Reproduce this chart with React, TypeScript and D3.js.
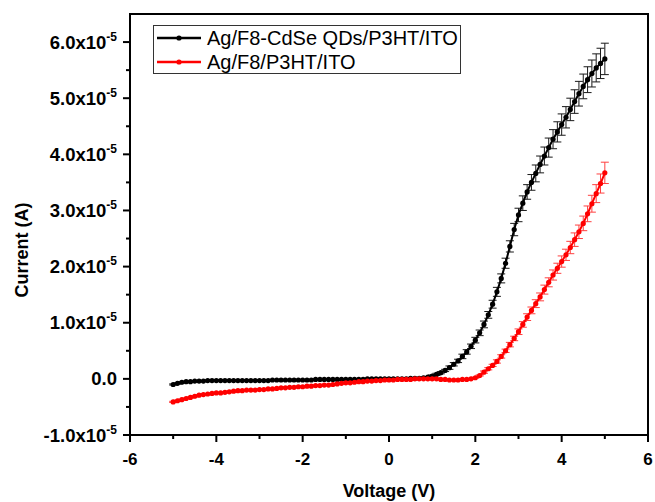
import React from "react";
import * as d3 from "d3";

// voltage grid, -5 V to 5 V in 0.1 V steps
const voltages = d3.range(101).map((i) => Math.round((-5 + i * 0.1) * 10) / 10);

// currents in units of 1e-5 A
const qdCurrent = [
  -0.10, -0.08, -0.06, -0.05, -0.05, -0.04, -0.04, -0.04, -0.03, -0.03,
  -0.03, -0.03, -0.03, -0.03, -0.03, -0.03, -0.03, -0.03, -0.03, -0.03,
  -0.03, -0.03, -0.03, -0.02, -0.02, -0.02, -0.02, -0.02, -0.02, -0.02,
  -0.02, -0.02, -0.02, -0.01, -0.01, -0.01, -0.01, -0.01, -0.01, -0.01,
  -0.01, -0.01, -0.01, -0.01, -0.01, 0, 0, 0, 0, 0,
  0, 0, 0, 0, 0, 0.01, 0.01, 0.01, 0.02, 0.03,
  0.05, 0.08, 0.11, 0.15, 0.20, 0.26, 0.32, 0.40, 0.48, 0.58,
  0.69, 0.82, 0.97, 1.14, 1.33, 1.55, 1.79, 2.06, 2.36, 2.66,
  2.92, 3.13, 3.33, 3.50, 3.66, 3.82, 3.97, 4.12, 4.27, 4.40,
  4.53, 4.66, 4.80, 4.94, 5.08, 5.21, 5.33, 5.44, 5.54, 5.62,
  5.70,
];
const qdError = [
  0.01, 0.01, 0.01, 0.01, 0.01, 0.01, 0.01, 0.01, 0.01, 0.01,
  0.01, 0.01, 0.01, 0.01, 0.01, 0.01, 0.01, 0.01, 0.01, 0.01,
  0.01, 0.01, 0.01, 0.01, 0.01, 0.01, 0.01, 0.01, 0.01, 0.01,
  0.01, 0.01, 0.01, 0.01, 0.01, 0.01, 0.01, 0.01, 0.01, 0.01,
  0.01, 0.01, 0.01, 0.01, 0.01, 0.01, 0.01, 0.01, 0.01, 0.01,
  0.01, 0.01, 0.01, 0.01, 0.01, 0.01, 0.01, 0.01, 0.01, 0.01,
  0.02, 0.02, 0.02, 0.02, 0.03, 0.03, 0.03, 0.04, 0.04, 0.04,
  0.05, 0.05, 0.06, 0.06, 0.07, 0.08, 0.08, 0.09, 0.10, 0.11,
  0.12, 0.13, 0.13, 0.14, 0.15, 0.15, 0.16, 0.17, 0.17, 0.18,
  0.19, 0.19, 0.20, 0.21, 0.22, 0.22, 0.23, 0.24, 0.25, 0.27,
  0.28,
];
const refCurrent = [
  -0.41, -0.39, -0.37, -0.35, -0.33, -0.31, -0.29, -0.28, -0.27, -0.26,
  -0.25, -0.25, -0.24, -0.23, -0.22, -0.21, -0.21, -0.20, -0.20, -0.20,
  -0.19, -0.19, -0.18, -0.18, -0.17, -0.16, -0.16, -0.15, -0.15, -0.14,
  -0.14, -0.13, -0.13, -0.12, -0.12, -0.11, -0.11, -0.10, -0.09, -0.08,
  -0.07, -0.07, -0.06, -0.05, -0.05, -0.04, -0.04, -0.03, -0.03, -0.02,
  -0.02, -0.02, -0.01, -0.01, -0.01, -0.01, 0, 0, 0, 0,
  0, 0, -0.01, -0.01, -0.02, -0.02, -0.02, -0.01, -0.01, 0,
  0.02, 0.06, 0.12, 0.18, 0.24, 0.31, 0.40, 0.50, 0.61, 0.72,
  0.84, 0.97, 1.10, 1.22, 1.34, 1.46, 1.59, 1.72, 1.85, 1.97,
  2.09, 2.21, 2.34, 2.48, 2.62, 2.77, 2.94, 3.12, 3.30, 3.48,
  3.67,
];
const refError = [
  0.01, 0.01, 0.01, 0.01, 0.01, 0.01, 0.01, 0.01, 0.01, 0.01,
  0.01, 0.01, 0.01, 0.01, 0.01, 0.01, 0.01, 0.01, 0.01, 0.01,
  0.01, 0.01, 0.01, 0.01, 0.01, 0.01, 0.01, 0.01, 0.01, 0.01,
  0.01, 0.01, 0.01, 0.01, 0.01, 0.01, 0.01, 0.01, 0.01, 0.01,
  0.01, 0.01, 0.01, 0.01, 0.01, 0.01, 0.01, 0.01, 0.01, 0.01,
  0.01, 0.01, 0.01, 0.01, 0.01, 0.01, 0.01, 0.01, 0.01, 0.01,
  0.01, 0.01, 0.01, 0.01, 0.01, 0.01, 0.01, 0.01, 0.01, 0.01,
  0.01, 0.01, 0.02, 0.02, 0.02, 0.03, 0.03, 0.03, 0.04, 0.04,
  0.05, 0.05, 0.06, 0.06, 0.07, 0.07, 0.08, 0.08, 0.09, 0.09,
  0.10, 0.10, 0.11, 0.12, 0.12, 0.13, 0.14, 0.15, 0.16, 0.17,
  0.19,
];

const xTicks = [-6, -4, -2, 0, 2, 4, 6];
const xMinor = [-5, -3, -1, 1, 3, 5];
const yTicks = [-1, 0, 1, 2, 3, 4, 5, 6];
const yMinor = [-0.5, 0.5, 1.5, 2.5, 3.5, 4.5, 5.5];

const series = [
  { name: "Ag/F8-CdSe QDs/P3HT/ITO", color: "#000000", current: qdCurrent, error: qdError },
  { name: "Ag/F8/P3HT/ITO", color: "#ff0000", current: refCurrent, error: refError },
];

const W = 655;
const H = 502;
const left = 130;
const right = 648;
const top = 14;
const bottom = 435;
const font = "'Liberation Sans', Arial, sans-serif";

export default function App() {
  const x = d3.scaleLinear().domain([-6, 6]).range([left, right]);
  const y = d3.scaleLinear().domain([-1, 6.5]).range([bottom, top]);
  const line = d3
    .line<number>()
    .x((_, i) => x(voltages[i]))
    .y((d) => y(d));

  return (
    <svg width={W} height={H} style={{ position: "absolute", left: 0, top: 0, background: "#fff" }} fontFamily={font}>
      {series.map((s) => (
        <g key={s.name}>
          <g stroke={s.color} strokeWidth={1} opacity={s.color === "#ff0000" ? 0.75 : 0.9}>
            {s.current.map((c, i) => {
              const cx = x(voltages[i]);
              const y0 = y(c + s.error[i]);
              const y1 = y(c - s.error[i]);
              return (
                <g key={i}>
                  <line x1={cx} x2={cx} y1={y0} y2={y1} />
                  <line x1={cx - 4} x2={cx + 4} y1={y0} y2={y0} />
                  <line x1={cx - 4} x2={cx + 4} y1={y1} y2={y1} />
                </g>
              );
            })}
          </g>
          <path d={line(s.current) ?? ""} fill="none" stroke={s.color} strokeWidth={2} />
          {s.current.map((c, i) => (
            <circle key={i} cx={x(voltages[i])} cy={y(c)} r={2.6} fill={s.color} />
          ))}
        </g>
      ))}

      {/* frame */}
      <rect x={left} y={top} width={right - left} height={bottom - top} fill="none" stroke="#000" strokeWidth={2} />

      {/* x axis ticks */}
      {xTicks.map((t) => (
        <g key={t}>
          <line x1={x(t)} x2={x(t)} y1={bottom} y2={bottom + 7} stroke="#000" strokeWidth={2} />
          <text x={x(t)} y={465} textAnchor="middle" fontSize={17} fontWeight="bold">
            {t}
          </text>
        </g>
      ))}
      {xMinor.map((t) => (
        <line key={t} x1={x(t)} x2={x(t)} y1={bottom} y2={bottom + 4} stroke="#000" strokeWidth={2} />
      ))}

      {/* y axis ticks */}
      {yTicks.map((t) => (
        <g key={t}>
          <line x1={left - 7} x2={left} y1={y(t)} y2={y(t)} stroke="#000" strokeWidth={2} />
          <text x={117} y={y(t) + 6.5} textAnchor="end" fontSize={18.5} fontWeight="bold">
            {t === 0 ? (
              "0.0"
            ) : (
              <>
                <tspan>{t.toFixed(1)}x10</tspan>
                <tspan dy={-8} fontSize={12}>
                  -5
                </tspan>
              </>
            )}
          </text>
        </g>
      ))}
      {yMinor.map((t) => (
        <line key={t} x1={left - 4} x2={left} y1={y(t)} y2={y(t)} stroke="#000" strokeWidth={2} />
      ))}

      {/* axis titles */}
      <text x={389} y={497} textAnchor="middle" fontSize={18} fontWeight="bold">
        Voltage (V)
      </text>
      <text transform="translate(28,250) rotate(-90)" textAnchor="middle" fontSize={18} fontWeight="bold">
        Current (A)
      </text>

      {/* legend */}
      <rect x={153.5} y={25.5} width={307} height={48} fill="#fff" stroke="#333" strokeWidth={1} />
      {series.map((s, i) => {
        const ly = 38 + i * 24;
        return (
          <g key={s.name}>
            <line x1={157} x2={201} y1={ly} y2={ly} stroke={s.color} strokeWidth={2.5} />
            <circle cx={179} cy={ly} r={2.6} fill={s.color} />
            <text x={207} y={ly + 7} fontSize={20}>
              {s.name}
            </text>
          </g>
        );
      })}
    </svg>
  );
}
